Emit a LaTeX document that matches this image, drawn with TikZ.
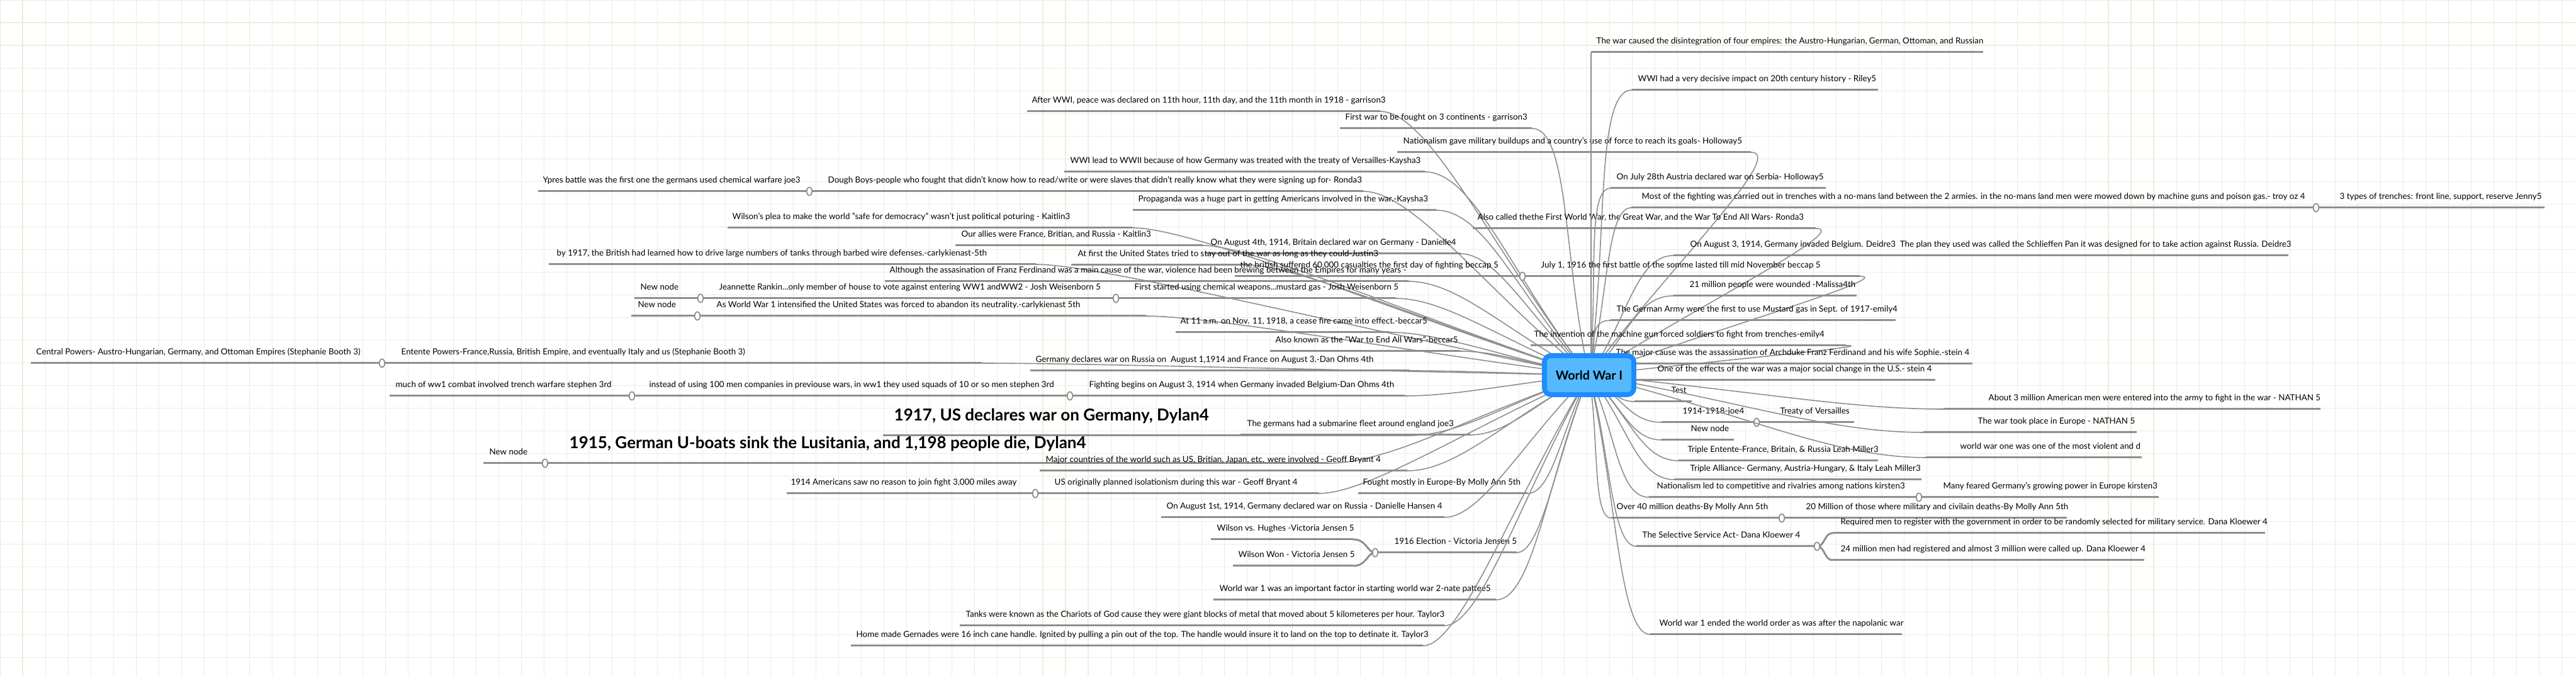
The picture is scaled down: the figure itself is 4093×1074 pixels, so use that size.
\documentclass[tikz,border=0pt]{standalone}
\usepackage{fontspec}
\setmainfont{Lato}
\usetikzlibrary{calc,shapes.geometric}
\definecolor{lg}{HTML}{8E8E8E}
\definecolor{gridc}{HTML}{E4F1DA}
\definecolor{boxf}{HTML}{55B9FF}
\definecolor{boxd}{HTML}{1E8CFF}
\tikzset{
 uline/.style={lg,line width=0.85pt},
 conn/.style={lg,line width=0.45pt},
 lbl/.style={anchor=base west,inner sep=0pt,yshift=3.7pt,font=\fontsize{3.8}{4.5}\selectfont},
 lblb/.style={anchor=base west,inner sep=0pt,yshift=6.8pt,font=\fontsize{7.4}{9}\selectfont\bfseries},
 knobst/.style={ellipse,draw=lg,line width=0.5pt,fill=white,minimum width=0.085cm,minimum height=0.13cm,inner sep=0pt},
}
% name, textx, x1, x2, y, attachx, D, text, style
\newcommand\tp[9]{%
 \draw[uline] (#3,#5) -- (#4,#5);
 \node[#9] (#1) at (#2,#5) {#8};
 \coordinate (#1e) at (#6,#5);
 \draw[conn] (ctr) .. controls ($(ctr)!0.45!(#1e)$) and ($(#1e)+(#7,0)$) .. (#1e);}
% name, textx, x1, x2, y, text
\newcommand\subl[6]{%
 \draw[uline] (#3,#5) -- (#4,#5);
 \node[lbl] (#1) at (#2,#5) {#6};}
\newcommand\knob[3]{\node[knobst] (#1) at (#2,#3) {};}
\begin{document}
\begin{tikzpicture}[x=0.01cm,y=-0.01cm]
\useasboundingbox (0,0) rectangle (4093,1074);
\fill[white] (0,0) rectangle (4093,1074);
\draw[gridc,line width=0.3pt,step=0.36cm] (0cm,-10.74cm) grid (40.93cm,0cm);
\coordinate (ctr) at (2525,596);
% ---- left / top branches
\tp{a1}{1639}{1632}{2193}{177}{2193}{80}{After WWI, peace was declared on 11th hour, 11th day, and the 11th month in 1918 - garrison3}{lbl}
\tp{a2}{2137}{2129}{2434}{204}{2434}{60}{First war to be fought on 3 continents - garrison3}{lbl}
\tp{a3}{2229}{2220}{2782}{242}{2782}{60}{Nationalism gave military buildups and a country's use of force to reach its goals- Holloway5}{lbl}
\tp{a4}{1700}{1691}{2264}{273}{2264}{80}{WWI lead to WWII because of how Germany was treated with the treaty of Versailles-Kaysha3}{lbl}
\tp{a5}{1315}{1286}{2166}{304}{2166}{80}{Dough Boys-people who fought that didn't know how to read/write or were slaves that didn't really know what they were signing up for- Ronda3}{lbl}
\subl{a5s}{862}{855}{1286}{304}{Ypres battle was the first one the germans used chemical warfare joe3}
\knob{a5k}{1286}{304}
\tp{a6}{1808}{1800}{2282}{334}{2282}{80}{Propaganda was a huge part in getting Americans involved in the war.-Kaysha3}{lbl}
\tp{a7}{1163}{1156}{1799}{362}{1799}{100}{Wilson's plea to make the world "safe for democracy" wasn't just political poturing - Kaitlin3}{lbl}
\tp{a8}{2347}{2340}{2885}{363}{2885}{60}{Also called thethe First World War, the Great War, and the War To End All Wars- Ronda3}{lbl}
\tp{a9}{1527}{1518}{1911}{390}{1911}{80}{Our allies were France, Britian, and Russia - Kaitlin3}{lbl}
\tp{a10}{1923}{1916}{2320}{403}{2320}{60}{On August 4th, 1914, Britain declared war on Germany - Danielle4}{lbl}
\tp{a11}{1712}{1702}{1982}{421}{1982}{80}{At first the United States tried to stay out of the war as long as they could-Justin3}{lbl}
\tp{a12}{884}{872}{1646}{420}{1646}{100}{by 1917, the British had learned how to drive large numbers of tanks through barbed wire defenses.-carlykienast-5th}{lbl}
\tp{a13}{1413}{1406}{2238}{447}{2238}{80}{Although the assasination of Franz Ferdinand was a main cause of the war, violence had been brewing between the Empires for many years -}{lbl}
\tp{a14}{1802}{1773}{2217}{474}{2217}{80}{First started using chemical weapons...mustard gas - Josh Weisenborn 5}{lbl}
\subl{a14s}{1142}{1113}{1773}{474}{Jeannette Rankin...only member of house to vote against entering WW1 andWW2 - Josh Weisenborn 5}
\subl{a14t}{1017}{1008}{1113}{474}{New node}
\knob{a14k}{1773}{474}
\knob{a14l}{1113}{474}
\tp{a15}{1138}{1108}{1820}{502}{1820}{100}{As World War 1 intensified the United States was forced to abandon its neutrality.-carlykienast 5th}{lbl}
\subl{a15s}{1013}{1003}{1108}{502}{New node}
\knob{a15k}{1108}{502}
\tp{a16}{1875}{1868}{2207}{528}{2207}{80}{At 11 a.m. on Nov. 11, 1918, a cease fire came into effect.-beccar5}{lbl}
\tp{a17}{2026}{2018}{2320}{558}{2320}{60}{Also known as the "War to End All Wars"-beccar5}{lbl}
\tp{a18}{637}{607}{1560}{577}{1560}{150}{Entente Powers-France,Russia, British Empire, and eventually Italy and us (Stephanie Booth 3)}{lbl}
\subl{a18s}{57}{49}{607}{577}{Central Powers- Austro-Hungarian, Germany, and Ottoman Empires (Stephanie Booth 3)}
\knob{a18k}{607}{577}
\tp{a19}{1645}{1637}{2240}{589}{2240}{80}{Germany declares war on Russia on\ \ August 1,1914 and France on August 3.-Dan Ohms 4th}{lbl}
\tp{a20}{1730}{1700}{2232}{629}{2232}{80}{Fighting begins on August 3, 1914 when Germany invaded Belgium-Dan Ohms 4th}{lbl}
\subl{a20s}{1031}{1004}{1700}{629}{instead of using 100 men companies in previouse wars, in ww1 they used squads of 10 or so men stephen 3rd}
\subl{a20t}{628}{619}{1004}{629}{much of ww1 combat involved trench warfare stephen 3rd}
\knob{a20k}{1700}{629}
\knob{a20l}{1004}{629}
\tp{a21}{1420}{1403}{2240}{692}{2240}{80}{1917, US declares war on Germany, Dylan4}{lblb}
\tp{a22}{1981}{1971}{2336}{691}{2336}{60}{The germans had a submarine fleet around england joe3}{lbl}
\tp{a23}{904}{866}{2110}{736}{2110}{100}{1915, German U-boats sink the Lusitania, and 1,198 people die, Dylan4}{lblb}
\subl{a23s}{777}{768}{866}{736}{New node}
\knob{a23k}{866}{736}
\tp{a24}{1661}{1652}{2236}{748}{2236}{80}{Major countries of the world such as US, Britian, Japan, etc. were involved - Geoff Bryant 4}{lbl}
\tp{a25}{1675}{1645}{2095}{784}{2095}{80}{US originally planned isolationism during this war - Geoff Bryant 4}{lbl}
\subl{a25s}{1256}{1250}{1645}{784}{1914 Americans saw no reason to join fight 3,000 miles away}
\knob{a25k}{1645}{784}
\tp{a26}{2165}{2158}{2427}{784}{2427}{40}{Fought mostly in Europe-By Molly Ann 5th}{lbl}
\tp{a27}{1853}{1845}{2295}{822}{2295}{60}{On August 1st, 1914, Germany declared war on Russia - Danielle Hansen 4}{lbl}
\tp{a28}{2215}{2185}{2410}{878}{2410}{40}{1916 Election - Victoria Jensen 5}{lbl}
\subl{a28s}{1933}{1924}{2150}{857}{Wilson vs. Hughes -Victoria Jensen 5}
\subl{a28t}{1967}{1959}{2150}{899}{Wilson Won - Victoria Jensen 5}
\draw[uline] (2185,878) .. controls (2172,878) and (2172,857) .. (2150,857);
\draw[uline] (2185,878) .. controls (2172,878) and (2172,899) .. (2150,899);
\knob{a28k}{2185}{878}
\tp{a29}{1937}{1928}{2377}{953}{2377}{60}{World war 1 was an important factor in starting world war 2-nate pattee5}{lbl}
\tp{a30}{1534}{1525}{2295}{994}{2295}{60}{Tanks were known as the Chariots of God cause they were giant blocks of metal that moved about 5 kilometeres per hour. Taylor3}{lbl}
\tp{a31}{1360}{1352}{2261}{1026}{2261}{60}{Home made Gernades were 16 inch cane handle. Ignited by pulling a pin out of the top. The handle would insure it to land on the top to detinate it. Taylor3}{lbl}
% ---- right branches
\draw[uline] (2528,83) -- (3151,83);
\node[lbl] (b1) at (2536,83) {The war caused the disintegration of four empires: the Austro-Hungarian, German, Ottoman, and Russian};
\coordinate (b1e) at (2528,83);
\draw[conn] (2528,596) -- (b1e);
\tp{b2}{2602}{2593}{2984}{143}{2593}{-60}{WWI had a very decisive impact on 20th century history - Riley5}{lbl}
\tp{b3}{2568}{2559}{2901}{299}{2559}{-40}{On July 28th Austria declared war on Serbia- Holloway5}{lbl}
\tp{b4}{2608}{2592}{3680}{330}{2592}{-40}{Most of the fighting was carried out in trenches with a no-mans land between the 2 armies. in the no-mans land men were mowed down by machine guns and poison gas.- troy oz 4}{lbl}
\subl{b4s}{3717}{3680}{4043}{330}{3 types of trenches: front line, support, reserve Jenny5}
\knob{b4k}{3680}{330}
\tp{b5}{2685}{2659}{3636}{406}{2659}{-60}{On August 3, 1914, Germany invaded Belgium. Deidre3\ \ The plan they used was called the Schlieffen Pan it was designed for to take action against Russia. Deidre3}{lbl}
\tp{b6}{2448}{2419}{2955}{439}{2955}{60}{July 1, 1916 the first battle of the somme lasted till mid November beccap 5}{lbl}
\subl{b6s}{1970}{1962}{2419}{439}{the british suffered 60,000 casualties the first day of fighting beccap 5}
\knob{b6k}{2419}{439}
\tp{b7}{2684}{2659}{2950}{470}{2659}{-60}{21 million people were wounded -Malissa4th}{lbl}
\tp{b8}{2568}{2559}{3012}{509}{2559}{-40}{The German Army were the first to use Mustard gas in Sept. of 1917-emily4}{lbl}
\tp{b9}{2437}{2432}{2933}{549}{2933}{60}{The invention of the machine gun forced soldiers to fight from trenches-emily4}{lbl}
\tp{b10}{2567}{2597}{3134}{578}{2597}{-30}{The major cause was the assassination of Archduke Franz Ferdinand and his wife Sophie.-stein 4}{lbl}
\tp{b11}{2633}{2597}{3075}{604}{2597}{-30}{One of the effects of the war was a major social change in the U.S.- stein 4}{lbl}
\tp{b12}{2655}{2597}{2688}{638}{2597}{-30}{Test}{lbl}
\tp{b13}{3159}{3088}{3687}{650}{3088}{-150}{About 3 million American men were entered into the army to fight in the war - NATHAN 5}{lbl}
\tp{b14}{2673}{2640}{2791}{671}{2640}{-50}{1914-1918-joe4}{lbl}
\subl{b14s}{2828}{2791}{2946}{671}{Treaty of Versailles}
\knob{b14k}{2791}{671}
\tp{b15}{3142}{3056}{3395}{687}{3056}{-150}{The war took place in Europe - NATHAN 5}{lbl}
\tp{b16}{2686}{2640}{2755}{699}{2640}{-50}{New node}{lbl}
\tp{b17}{3114}{3060}{3403}{727}{3060}{-150}{world war one was one of the most violent and d}{lbl}
\tp{b18}{2681}{2667}{2984}{732}{2667}{-60}{Triple Entente-France, Britain, \& Russia Leah Miller3}{lbl}
\tp{b19}{2685}{2660}{3053}{762}{2660}{-60}{Triple Alliance- Germany, Austria-Hungary, \& Italy Leah Miller3}{lbl}
\tp{b20}{2632}{2620}{3049}{790}{2620}{-50}{Nationalism led to competitive and rivalries among nations kirsten3}{lbl}
\subl{b20s}{3087}{3049}{3430}{790}{Many feared Germany's growing power in Europe kirsten3}
\knob{b20k}{3049}{790}
\tp{b21}{2568}{2560}{2831}{823}{2560}{-30}{Over 40 million deaths-By Molly Ann 5th}{lbl}
\subl{b21s}{2869}{2831}{3284}{823}{20 Million of those where military and civilain deaths-By Molly Ann 5th}
\knob{b21k}{2831}{823}
\tp{b22}{2609}{2600}{2887}{868}{2600}{-40}{The Selective Service Act- Dana Kloewer 4}{lbl}
\subl{b22s}{2924}{2912}{3599}{847}{Required men to register with the government in order to be randomly selected for military service. Dana Kloewer 4}
\subl{b22t}{2924}{2912}{3407}{890}{24 million men had registered and almost 3 million were called up. Dana Kloewer 4}
\draw[uline] (2887,868) .. controls (2900,868) and (2898,847) .. (2912,847);
\draw[uline] (2887,868) .. controls (2900,868) and (2898,890) .. (2912,890);
\knob{b22k}{2887}{868}
\tp{b23}{2636}{2622}{3022}{1008}{2622}{-50}{World war 1 ended the world order as was after the napolanic war}{lbl}
% ---- central node
\node[draw=boxd,fill=boxf,line width=2.2pt,rounded corners=3pt,minimum width=1.42cm,minimum height=0.62cm,inner sep=0pt,font=\fontsize{5.6}{6.5}\selectfont\bfseries] (wwi) at (2525,596) {World War I};
\end{tikzpicture}
\end{document}
